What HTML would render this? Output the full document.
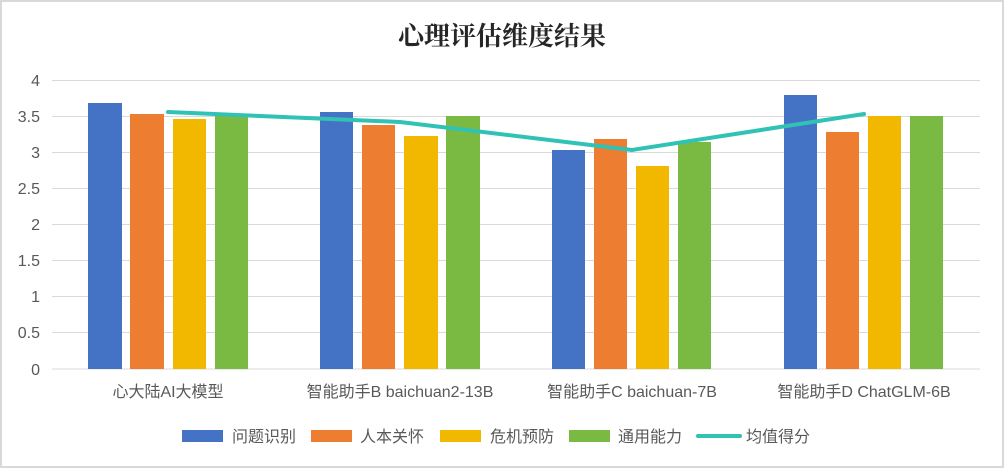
<!DOCTYPE html>
<html><head><meta charset="utf-8"><style>
body{margin:0;background:#fff}
svg text{font-family:"Liberation Sans","Noto Sans CJK SC",sans-serif;fill:#595959}
</style></head><body>
<svg width="1004" height="468" xmlns="http://www.w3.org/2000/svg">
<rect x="1" y="1" width="1002" height="466" fill="#fff" stroke="#d9d9d9" stroke-width="2"/>
<text x="502" y="45" text-anchor="middle" font-size="26" font-weight="bold" style="fill:#262626;font-family:'Liberation Serif','Noto Serif CJK SC',serif">心理评估维度结果</text>
<g stroke="#d9d9d9" stroke-width="1">
<line x1="52" x2="980" y1="80.5" y2="80.5"/><line x1="52" x2="980" y1="116.5" y2="116.5"/>
<line x1="52" x2="980" y1="152.5" y2="152.5"/><line x1="52" x2="980" y1="188.5" y2="188.5"/>
<line x1="52" x2="980" y1="224.5" y2="224.5"/><line x1="52" x2="980" y1="260.5" y2="260.5"/>
<line x1="52" x2="980" y1="296.5" y2="296.5"/><line x1="52" x2="980" y1="332.5" y2="332.5"/>
<line x1="52" x2="980" y1="369" y2="369"/>
</g>
<g font-size="16" text-anchor="end">
<text x="40" y="86">4</text><text x="40" y="122">3.5</text><text x="40" y="158">3</text>
<text x="40" y="194">2.5</text><text x="40" y="230">2</text><text x="40" y="266">1.5</text>
<text x="40" y="302">1</text><text x="40" y="338">0.5</text><text x="40" y="375">0</text>
</g>
<g>
<rect x="88" y="103" width="34" height="266" fill="#4472c4"/><rect x="130" y="114" width="34" height="255" fill="#ed7d31"/>
<rect x="173" y="119" width="33" height="250" fill="#ffc000" style="fill:#f2b800"/><rect x="215" y="116" width="33" height="253" fill="#70ad47" style="fill:#7aba43"/>
<rect x="320" y="112" width="33" height="257" fill="#4472c4"/><rect x="362" y="125" width="33" height="244" fill="#ed7d31"/>
<rect x="404" y="136" width="34" height="233" fill="#f2b800"/><rect x="446" y="116" width="34" height="253" fill="#7aba43"/>
<rect x="552" y="150" width="33" height="219" fill="#4472c4"/><rect x="594" y="139" width="33" height="230" fill="#ed7d31"/>
<rect x="636" y="166" width="33" height="203" fill="#f2b800"/><rect x="678" y="142" width="33" height="227" fill="#7aba43"/>
<rect x="784" y="95" width="33" height="274" fill="#4472c4"/><rect x="826" y="132" width="33" height="237" fill="#ed7d31"/>
<rect x="868" y="116" width="33" height="253" fill="#f2b800"/><rect x="910" y="116" width="33" height="253" fill="#7aba43"/>
</g>
<polyline points="168,112 400,122 632,150 864,114" fill="none" stroke="#2ec4b6" stroke-width="4" stroke-linejoin="round" stroke-linecap="round" style="stroke:#30c2b4"/>
<g font-size="16" text-anchor="middle">
<text x="168" y="397">心大陆AI大模型</text><text x="400" y="397">智能助手B baichuan2-13B</text>
<text x="632" y="397">智能助手C baichuan-7B</text><text x="864" y="397">智能助手D ChatGLM-6B</text>
</g>
<g font-size="16">
<rect x="182" y="430" width="41" height="12" fill="#4472c4"/><text x="232" y="442">问题识别</text>
<rect x="311" y="430" width="41" height="12" fill="#ed7d31"/><text x="360" y="442">人本关怀</text>
<rect x="440" y="430" width="41" height="12" fill="#f2b800"/><text x="490" y="442">危机预防</text>
<rect x="569" y="430" width="41" height="12" fill="#7aba43"/><text x="618" y="442">通用能力</text>
<line x1="698" x2="740" y1="436" y2="436" stroke="#30c2b4" stroke-width="4" stroke-linecap="round"/><text x="746" y="442">均值得分</text>
</g>
</svg>
</body></html>
